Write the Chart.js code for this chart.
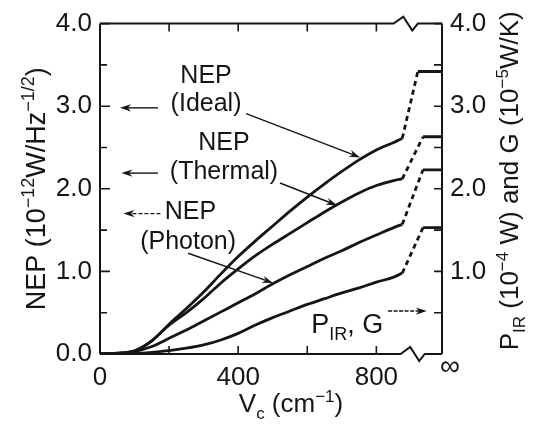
<!DOCTYPE html>
<html>
<head>
<meta charset="utf-8">
<script src="https://cdn.jsdelivr.net/npm/chart.js@4.4.1/dist/chart.umd.min.js"></script>
<style>
  html, body { margin: 0; padding: 0; background: #fff; }
  #wrap { width: 542px; height: 427px; }
</style>
</head>
<body>
<div id="wrap"><canvas id="c" width="542" height="427"></canvas></div>
<script>
// cut-off frequency (cm-1) for the solid part of every curve
const nu = [0, 50, 100, 150, 200, 250, 300, 350, 400, 450, 500, 550, 600, 650, 700, 750, 800, 850, 875];
const nepIdeal   = [0, 0.01, 0.04, 0.16, 0.36, 0.55, 0.75, 0.97, 1.18, 1.37, 1.55, 1.73, 1.90, 2.06, 2.21, 2.35, 2.47, 2.56, 2.61];
const nepThermal = [0, 0.01, 0.04, 0.16, 0.35, 0.50, 0.67, 0.86, 1.03, 1.19, 1.33, 1.46, 1.59, 1.72, 1.84, 1.95, 2.04, 2.10, 2.12];
const nepPhoton  = [0, 0.005, 0.03, 0.09, 0.19, 0.29, 0.40, 0.51, 0.62, 0.73, 0.85, 0.96, 1.06, 1.16, 1.25, 1.35, 1.44, 1.53, 1.57];
const pirG       = [0, 0.00, 0.005, 0.02, 0.04, 0.07, 0.11, 0.17, 0.25, 0.35, 0.44, 0.52, 0.60, 0.67, 0.74, 0.80, 0.87, 0.93, 0.98];

// jump to the "infinity" limit (dashed), then the limit value up to the axis
const nuStepIdeal = [875, 920, 990];
const nuStep      = [875, 935, 990];
const stepIdeal   = [2.61, 3.42, 3.42];
const stepThermal = [2.12, 2.63, 2.63];
const stepPhoton  = [1.57, 2.23, 2.23];
const stepPirG    = [0.98, 1.53, 1.53];

const xTickLabels = [0, 400, 800];
const xTicks      = [200, 400, 600, 800];
const yTicks      = [0, 0.5, 1, 1.5, 2, 2.5, 3, 3.5, 4];
const rightLabels = [1, 2, 3, 4];

const FONT = "'Liberation Sans', Arial, Helvetica, sans-serif";
const INK = '#151515';

const pts = (xs, ys) => xs.map((x, i) => ({ x: x, y: ys[i] }));

function curve(xs, ys){
  return { data: pts(xs, ys), borderColor: INK, borderWidth: 2.8, pointRadius: 0,
           fill: false, cubicInterpolationMode: 'monotone' };
}
function step(xs, ys){
  return { data: pts(xs, ys), borderColor: INK, borderWidth: 2.8, pointRadius: 0,
           fill: false, tension: 0,
           segment: { borderDash: c => c.p0DataIndex === 0 ? [5, 4] : undefined } };
}

// text with sub/superscripts: parts = [[text, 0|1|-1], ...]
function richWidth(ctx, parts, size){
  let w = 0;
  parts.forEach(p => {
    ctx.font = (p[1] ? Math.round(size * 0.66) : size) + 'px ' + FONT;
    w += ctx.measureText(p[0]).width;
  });
  return w;
}
function richText(ctx, parts, size, x, y){
  let cx = x - richWidth(ctx, parts, size) / 2;
  ctx.textAlign = 'left';
  ctx.textBaseline = 'alphabetic';
  parts.forEach(p => {
    const s = p[1] ? Math.round(size * 0.66) : size;
    ctx.font = s + 'px ' + FONT;
    const dy = p[1] === 1 ? -size * 0.4 : (p[1] === -1 ? size * 0.25 : 0);
    ctx.fillText(p[0], cx, y + dy);
    cx += ctx.measureText(p[0]).width;
  });
}

function arrow(ctx, x1, y1, x2, y2, dash){
  const ang = Math.atan2(y2 - y1, x2 - x1);
  const L = 11, H = 3.6;
  ctx.save();
  ctx.lineWidth = 1.4;
  if (dash) ctx.setLineDash(dash);
  ctx.beginPath();
  ctx.moveTo(x1, y1);
  ctx.lineTo(x2 - L * 0.7 * Math.cos(ang), y2 - L * 0.7 * Math.sin(ang));
  ctx.stroke();
  ctx.setLineDash([]);
  ctx.beginPath();
  ctx.moveTo(x2, y2);
  ctx.lineTo(x2 - L * Math.cos(ang) - H * Math.sin(ang), y2 - L * Math.sin(ang) + H * Math.cos(ang));
  ctx.lineTo(x2 - L * 0.7 * Math.cos(ang), y2 - L * 0.7 * Math.sin(ang));
  ctx.lineTo(x2 - L * Math.cos(ang) + H * Math.sin(ang), y2 - L * Math.sin(ang) - H * Math.cos(ang));
  ctx.closePath();
  ctx.fill();
  ctx.restore();
}

const overlay = {
  id: 'overlay',
  afterDraw(chart){
    const { ctx, chartArea: a, scales } = chart;
    const X = v => scales.x.getPixelForValue(v);
    const Y = v => scales.y.getPixelForValue(v);
    ctx.save();
    ctx.strokeStyle = INK;
    ctx.fillStyle = INK;
    ctx.lineWidth = 2;

    // frame with axis breaks at top and bottom
    ctx.beginPath();
    ctx.moveTo(a.left, a.top); ctx.lineTo(a.left, a.bottom);
    ctx.moveTo(a.right, a.top); ctx.lineTo(a.right, a.bottom);
    ctx.stroke();
    function brk(yy, s){
      ctx.beginPath();
      ctx.moveTo(a.left, yy);
      ctx.lineTo(X(s), yy);
      ctx.lineTo(X(s + 28), yy - 7);
      ctx.lineTo(X(s + 54), yy + 7);
      ctx.lineTo(X(s + 70), yy);
      ctx.lineTo(a.right, yy);
      ctx.stroke();
    }
    brk(a.top, 850);
    brk(a.bottom, 870);

    // inward ticks
    ctx.lineWidth = 1.6;
    ctx.beginPath();
    yTicks.forEach(v => {
      const len = Number.isInteger(v) ? 10 : 7;
      ctx.moveTo(a.left, Y(v)); ctx.lineTo(a.left + len, Y(v));
      ctx.moveTo(a.right, Y(v)); ctx.lineTo(a.right - 8, Y(v));
    });
    xTicks.forEach(v => {
      ctx.moveTo(X(v), a.bottom); ctx.lineTo(X(v), a.bottom - 8);
      ctx.moveTo(X(v), a.top); ctx.lineTo(X(v), a.top + 8);
    });
    ctx.stroke();

    // infinity label under the right axis
    ctx.font = '28px ' + FONT;
    ctx.textAlign = 'center';
    ctx.textBaseline = 'middle';
    ctx.fillText('\u221E', a.right + 8, a.bottom + 13);

    // axis titles
    ctx.save();
    ctx.translate(a.left - 55, (a.top + a.bottom) / 2);
    ctx.rotate(-Math.PI / 2);
    richText(ctx, [['NEP (10', 0], ['\u221212', 1], ['W/Hz', 0], ['\u22121/2', 1], [')', 0]], 27, 0, 0);
    ctx.restore();

    ctx.save();
    ctx.translate(a.right + 76, (a.top + a.bottom) / 2 - 8);
    ctx.rotate(-Math.PI / 2);
    richText(ctx, [['P', 0], ['IR', -1], [' (10', 0], ['\u22124', 1], [' W) and G (10', 0], ['\u22125', 1], ['W/K)', 0]], 26, 0, 0);
    ctx.restore();

    richText(ctx, [['V', 0], ['c', -1], [' (cm', 0], ['\u22121', 1], [')', 0]], 26, (a.left + a.right) / 2 + 20, a.bottom + 58);

    // curve labels
    ctx.font = '25px ' + FONT;
    ctx.textAlign = 'center';
    ctx.textBaseline = 'middle';
    ctx.fillText('NEP', X(307), Y(3.36));
    ctx.fillText('(Ideal)', X(307), Y(3.02));
    ctx.fillText('NEP', X(359), Y(2.55));
    ctx.fillText('(Thermal)', X(359), Y(2.20));
    ctx.fillText('NEP', X(262), Y(1.72));
    ctx.fillText('(Photon)', X(255), Y(1.35));

    arrow(ctx, X(423), Y(2.91), X(753), Y(2.38));
    arrow(ctx, X(521), Y(2.07), X(686), Y(1.80));
    arrow(ctx, X(255), Y(1.22), X(501), Y(0.86));

    // left-pointing arrows to the NEP axis
    arrow(ctx, X(168), Y(2.98), X(58), Y(2.98));
    arrow(ctx, X(168), Y(2.19), X(62), Y(2.19));
    arrow(ctx, X(175), Y(1.70), X(68), Y(1.70), [4, 2]);

    // P_IR, G with arrow to the right axis
    richText(ctx, [['P', 0], ['IR', -1], [', G', 0]], 27, X(716), Y(0.25));
    arrow(ctx, X(834), Y(0.52), X(946), Y(0.52), [4, 1.5]);

    ctx.restore();
  }
};

new Chart(document.getElementById('c'), {
  type: 'line',
  data: {
    datasets: [
      curve(nu, nepIdeal), curve(nu, nepThermal), curve(nu, nepPhoton), curve(nu, pirG),
      step(nuStepIdeal, stepIdeal), step(nuStep, stepThermal), step(nuStep, stepPhoton), step(nuStep, stepPirG)
    ]
  },
  options: {
    responsive: false,
    animation: false,
    devicePixelRatio: 1,
    layout: { padding: { top: 23, left: 0, right: 0, bottom: 0 } },
    plugins: { legend: { display: false }, tooltip: { enabled: false } },
    scales: {
      x: {
        type: 'linear', min: 0, max: 990,
        grid: { display: false, drawTicks: false }, border: { display: false },
        afterFit: s => { s.height = 73; },
        afterBuildTicks: s => { s.ticks = xTickLabels.map(v => ({ value: v })); },
        ticks: {
          autoSkip: false, maxRotation: 0, padding: 8, color: INK,
          font: { family: FONT, size: 26 },
          callback: v => String(v)
        }
      },
      y: {
        position: 'left', min: 0, max: 4,
        grid: { display: false, drawTicks: false }, border: { display: false },
        afterFit: s => { s.width = 100; },
        ticks: { stepSize: 1, padding: 8, color: INK, font: { family: FONT, size: 26 },
                 callback: v => v.toFixed(1) }
      },
      y2: {
        position: 'right', min: 0, max: 4,
        grid: { display: false, drawTicks: false }, border: { display: false },
        afterFit: s => { s.width = 100; },
        ticks: { stepSize: 1, padding: 8, color: INK, font: { family: FONT, size: 26 },
                 callback: v => rightLabels.includes(v) ? v.toFixed(1) : '' }
      }
    }
  },
  plugins: [overlay]
});
</script>
</body>
</html>
